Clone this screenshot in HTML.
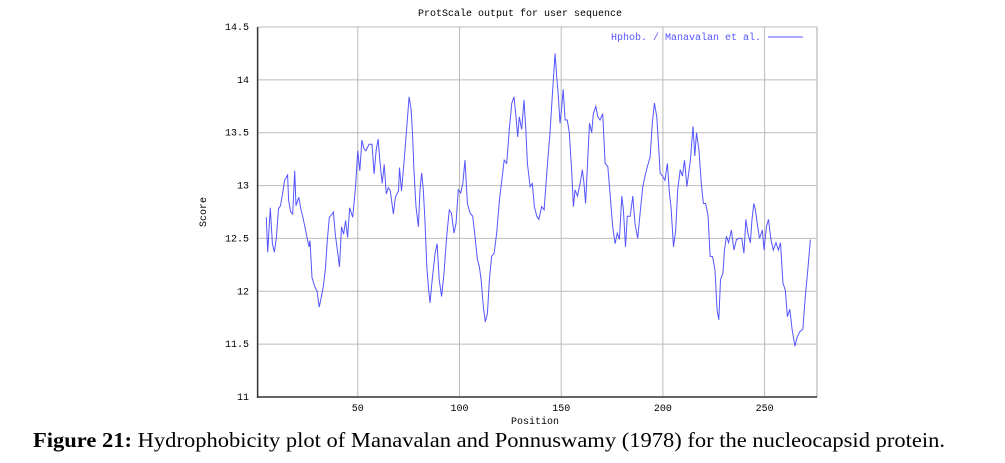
<!DOCTYPE html>
<html><head><meta charset="utf-8"><style>
html,body{margin:0;padding:0;background:#fff;}
svg{display:block;}
.mono{font-family:"Liberation Mono",monospace;font-size:10px;fill:#000;}
</style></head><body>
<svg id="chart" width="1005" height="463" viewBox="0 0 1005 463" xmlns="http://www.w3.org/2000/svg">
<text class="mono" x="520" y="16" text-anchor="middle">ProtScale output for user sequence</text>
<g id="grid"></g>
<g id="axes"></g>
<polyline id="series" fill="none" stroke="#5555ff" stroke-width="1"></polyline>
<text class="mono" x="761" y="40" text-anchor="end" style="fill:#5555ff">Hphob. / Manavalan et al.</text>
<line x1="768" y1="37" x2="803" y2="37" stroke="#5555ff" stroke-width="1"/>
<text class="mono" x="535" y="424" text-anchor="middle">Position</text>
<text class="mono" transform="translate(206,212) rotate(-90)" text-anchor="middle">Score</text>
<text x="33" y="447" textLength="912" lengthAdjust="spacingAndGlyphs" style="font-family:'Liberation Serif',serif;font-size:21px;fill:#000"><tspan font-weight="bold">Figure 21:</tspan> Hydrophobicity plot of Manavalan and Ponnuswamy (1978) for the nucleocapsid protein.</text>
</svg>
<script>
const positions=[5,5.7,7,8,9,10,11,12,13,14,15.5,16,17,18,19,19.6,21,22,23,24,25,26,26.5,27.5,28.7,30,31,32,33,34,35,36,37,38,39,40,41,42,43,44,45,46,47.5,48.7,50,51,52,53,54,55.5,57,58,59,60,61,62,63,64,65,66,67.5,68.5,70,70.5,71.5,72.4,74,75.2,76.2,77,77.6,78.6,79.8,80.6,81.4,82.2,83,83.9,84.7,85.5,86.6,88,89,90,91.2,92.4,93.7,95,96,97.3,98.3,99.4,100.6,101.6,102.7,103.9,105.2,106.5,107.6,108.8,109.8,110.6,111.7,112.7,113.7,114.7,115.8,117,118.3,119.6,120.8,122,123.2,124.5,125.7,126.8,127.8,128.6,129.4,130.6,131.7,132.6,133.4,134.7,135.8,136.8,138,139,140.4,141.6,142.9,144.5,145.8,147,147.8,148.6,149.4,150.3,151,151.9,153,154,155.2,156,156.8,158,159.3,160.4,161.2,162,162.9,163.9,165,165.8,167,168,169.1,170.4,171.6,172.9,174,175.3,176.5,177.6,178.6,179.8,180.6,181.6,182.5,183.9,185.2,186.3,187.6,188.8,190.1,191.2,192.4,193.7,194.8,195.8,197,198,198.6,199.8,201,202.2,203.2,204,205.2,206.3,207.3,208.5,209.6,210.6,211.8,213.5,214.8,215.7,216.5,217.7,218.9,219.9,221,222.2,223.2,224.4,225.6,226.6,227.5,228.3,229.5,230.3,231.2,232.3,233.7,234.9,236.2,237.4,238.8,239.8,240.8,241.8,243,243.8,244.7,245.5,246.3,247.5,248.9,249.7,250.9,251.9,253.1,254.3,255.6,256.8,257.8,259,260.2,261.2,262.4,263.5,264.9,266.1,267.4,268.8,270,271.1,272.5];
const scores=[12.70,12.37,12.79,12.45,12.37,12.51,12.78,12.81,12.92,13.05,13.10,12.86,12.75,12.73,13.14,12.81,12.89,12.78,12.70,12.61,12.51,12.42,12.48,12.13,12.05,12.00,11.85,11.94,12.04,12.20,12.48,12.70,12.72,12.75,12.53,12.38,12.23,12.61,12.54,12.67,12.51,12.79,12.70,12.95,13.33,13.14,13.43,13.35,13.33,13.39,13.39,13.11,13.33,13.44,13.20,13.02,13.20,12.92,12.98,12.95,12.73,12.89,12.95,13.17,12.95,13.15,13.53,13.84,13.72,13.46,13.15,12.80,12.61,12.96,13.12,12.96,12.68,12.23,12.04,11.89,12.11,12.36,12.45,12.11,11.95,12.17,12.52,12.77,12.74,12.55,12.64,12.96,12.93,13.02,13.24,12.83,12.74,12.71,12.52,12.30,12.23,12.11,11.86,11.71,11.79,12.11,12.33,12.36,12.55,12.86,13.05,13.24,13.21,13.53,13.78,13.84,13.65,13.46,13.65,13.53,13.81,13.53,13.21,12.99,13.02,12.80,12.71,12.68,12.80,12.77,13.12,13.50,13.91,14.25,14.03,13.84,13.59,13.75,13.91,13.62,13.62,13.50,13.12,12.80,12.96,12.90,13.02,13.15,13.02,12.83,13.18,13.59,13.50,13.68,13.75,13.65,13.62,13.68,13.21,13.18,12.93,12.61,12.45,12.55,12.49,12.90,12.77,12.42,12.71,12.71,12.90,12.64,12.50,12.74,12.99,13.09,13.18,13.27,13.59,13.78,13.65,13.34,13.12,13.09,13.05,13.21,12.93,12.80,12.42,12.58,12.96,13.15,13.09,13.24,12.99,13.24,13.56,13.28,13.50,13.34,13.02,12.83,12.83,12.71,12.33,12.33,12.20,11.83,11.73,12.11,12.17,12.39,12.52,12.46,12.58,12.39,12.49,12.50,12.50,12.36,12.68,12.55,12.46,12.68,12.83,12.77,12.65,12.50,12.58,12.39,12.61,12.68,12.49,12.39,12.46,12.39,12.46,12.08,12.01,11.76,11.83,11.64,11.48,11.57,11.62,11.64,11.95,12.17,12.49];
const xTicks=[50,100,150,200,250];
const yTicks=[11,11.5,12,12.5,13,13.5,14,14.5];
const yTickLabels=["11","11.5","12","12.5","13","13.5","14","14.5"];

const NS="http://www.w3.org/2000/svg";
const L=257.6,R=817,T=27,B=397;
function xs(p){return 256.1+2.034*p;}
function ys(v){return B-(v-11)/(14.5-11)*(B-T);}
function mk(tag,attrs,parent){const e=document.createElementNS(NS,tag);for(const k in attrs)e.setAttribute(k,attrs[k]);parent.appendChild(e);return e;}
const grid=document.getElementById('grid'),axes=document.getElementById('axes');
mk('rect',{x:L,y:T,width:R-L,height:B-T,fill:'none',stroke:'#aaa','stroke-width':1},grid);
yTicks.forEach((v,i)=>{
  const y=ys(v);
  const g=mk('line',{x1:L,y1:y,x2:R,y2:y,stroke:'#bbb','stroke-width':1},grid);
  
  
  const t=mk('text',{x:249,y:y+3,'text-anchor':'end',class:'mono'},axes);
  t.textContent=yTickLabels[i];
  
  
});
xTicks.forEach(p=>{
  const x=xs(p);
  const g=mk('line',{x1:x,y1:T,x2:x,y2:B,stroke:'#bbb','stroke-width':1},grid);
  
  
  const t=mk('text',{x:x,y:411,'text-anchor':'middle',class:'mono'},axes);
  t.textContent=String(p);
  
  
});
const ya=mk('line',{x1:L,y1:T,x2:L,y2:B+1,stroke:'#333','stroke-width':1.5},axes);


const xa=mk('line',{x1:L,y1:B,x2:R,y2:B,stroke:'#333','stroke-width':1.5},axes);


document.getElementById('series').setAttribute('points',positions.map((p,i)=>xs(p).toFixed(1)+','+ys(scores[i]).toFixed(1)).join(' '));
</script>
</body></html>
